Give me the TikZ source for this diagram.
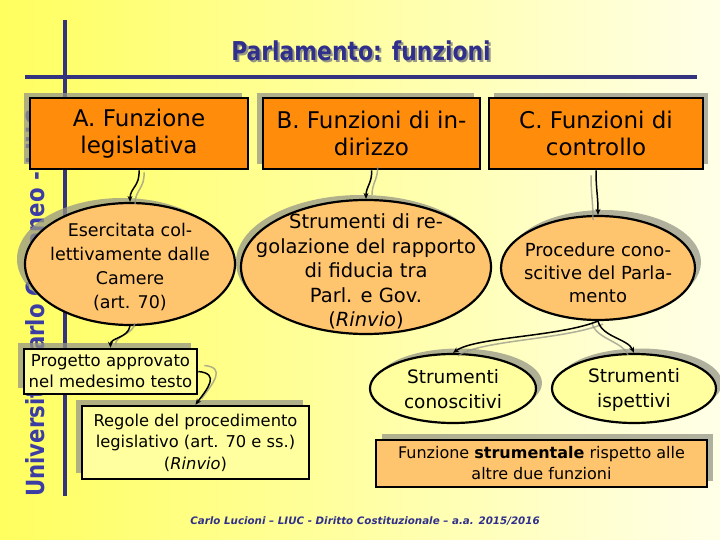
\documentclass[tikz,border=0pt]{standalone}
\usepackage{fontspec}
\setmainfont{DejaVu Sans}
\usetikzlibrary{shapes.geometric,arrows.meta}
\definecolor{bgL}{RGB}{255,255,95}
\definecolor{bgM}{RGB}{255,255,185}
\definecolor{bgR}{RGB}{255,255,232}
\definecolor{navy}{RGB}{51,51,128}
\definecolor{titleblue}{RGB}{48,48,140}
\definecolor{vblue}{RGB}{60,60,165}
\definecolor{orangeD}{RGB}{255,140,10}
\definecolor{orangeL}{RGB}{255,196,110}
\definecolor{yellowL}{RGB}{255,255,160}
\definecolor{shadowgray}{RGB}{150,150,135}
\newcommand{\fs}[2]{\fontsize{#1}{#2}\selectfont}
\begin{document}
\begin{tikzpicture}[x=1pt,y=-1pt,
  shadowrect/.style={rectangle,fill=shadowgray,opacity=0.75,draw=none,inner sep=0pt},
  shadowell/.style={ellipse,fill=shadowgray,opacity=0.75,draw=none,inner sep=0pt},
  boxnode/.style={rectangle,draw=black,line width=2.6pt,align=center,inner sep=0pt},
  ellnode/.style={ellipse,draw=black,line width=2.2pt,inner sep=0pt},
  txt/.style={align=center,inner sep=0pt},
  conn/.style={draw=black,line width=1.5pt,-{Stealth[length=6pt,width=5pt]}},
  connsh/.style={draw=shadowgray,line width=1.5pt,opacity=0.75}]
\useasboundingbox (0,0) rectangle (720,540);
\shade[left color=bgL, middle color=bgM, right color=bgR] (0,0) rectangle (720,540);

% vertical side text
\node[rotate=90,anchor=base west,inner sep=0pt,text=vblue,font=\fs{25}{29}\bfseries] (side) at (44,497) {\scalebox{0.85}[1]{Università Carlo Cattaneo - LIUC}};

% frame lines
\coordinate (vt) at (65,20);
\coordinate (vb) at (65,496);
\coordinate (hl) at (25,77);
\coordinate (hr) at (697,77);
\draw[navy,line width=4pt] (vt) -- (vb);
\draw[navy,line width=4pt] (hl) -- (hr);

% title
\node[text=shadowgray,font=\fs{26}{30}\bfseries] (titlesh) at (363,53) {\scalebox{0.84}[1]{Parlamento: funzioni}};
\node[text=titleblue,font=\fs{26}{30}\bfseries] (title) at (361,51) {\scalebox{0.84}[1]{Parlamento: funzioni}};

% shadows
\node[shadowrect,minimum width=218pt,minimum height=71pt] (sbA) at (133,128.5) {};
\node[shadowrect,minimum width=217pt,minimum height=71pt] (sbB) at (365.5,128.5) {};
\node[shadowrect,minimum width=214pt,minimum height=71pt] (sbC) at (601,128.5) {};
\node[shadowell,minimum width=210pt,minimum height=122pt] (seA) at (122,259) {};
\node[shadowell,minimum width=250pt,minimum height=134pt] (seB) at (361,262) {};
\node[shadowell,minimum width=194pt,minimum height=104pt] (seC) at (604,262) {};
\node[shadowrect,minimum width=173pt,minimum height=45pt] (sbP) at (104.5,365.5) {};
\node[shadowrect,minimum width=227pt,minimum height=73pt] (sbR) at (189.5,436.5) {};
\node[shadowell,minimum width=166pt,minimum height=69pt] (ssC) at (459,383) {};
\node[shadowell,minimum width=164pt,minimum height=69pt] (ssI) at (640,383) {};
\node[shadowrect,minimum width=331pt,minimum height=47pt] (sbF) at (547,457.5) {};

% main boxes
\node[boxnode,fill=orangeD,minimum width=218pt,minimum height=71pt,font=\fs{23}{27}] (bA) at (139,133.5) {A. Funzione\\legislativa};
\node[boxnode,fill=orangeD,minimum width=217pt,minimum height=71pt,font=\fs{23}{27}] (bB) at (371.5,133.5) {B. Funzioni di in-\\dirizzo};
\node[boxnode,fill=orangeD,minimum width=214pt,minimum height=71pt,font=\fs{23}{27}] (bC) at (596,133.5) {C. Funzioni di\\controllo};

% ellipses
\node[ellnode,fill=orangeL,minimum width=210pt,minimum height=122pt] (eA) at (130,264) {};
\node[txt,font=\fs{17.5}{24}] (tA) at (130,267) {Esercitata col-\\lettivamente dalle\\Camere\\(art. 70)};
\node[ellnode,fill=orangeL,minimum width=250pt,minimum height=134pt] (eB) at (366,267) {};
\node[txt,font=\fs{19.5}{24.5}] (tB) at (366,271.5) {Strumenti di re-\\golazione del rapporto\\di fiducia tra\\Parl. e Gov.\\(\textit{Rinvio})};
\node[ellnode,fill=orangeL,minimum width=194pt,minimum height=104pt] (eC) at (598,268) {};
\node[txt,font=\fs{18}{23}] (tC) at (598,272.5) {Procedure cono-\\scitive del Parla-\\mento};

% lower boxes
\node[boxnode,fill=yellowL,minimum width=173pt,minimum height=45pt,font=\fs{16.5}{21}] (bP) at (110.5,371.5) {Progetto approvato\\nel medesimo testo};
\node[boxnode,fill=yellowL,minimum width=227pt,minimum height=73pt,font=\fs{16.3}{21.5}] (bR) at (195.5,442.5) {Regole del procedimento\\legislativo (art. 70 e ss.)\\(\textit{Rinvio})};
\node[ellnode,fill=yellowL,minimum width=166pt,minimum height=69pt] (sC) at (453,388.5) {};
\node[txt,font=\fs{18.5}{25}] (tsC) at (453,389.5) {Strumenti\\conoscitivi};
\node[ellnode,fill=yellowL,minimum width=164pt,minimum height=69pt] (sI) at (634,388.5) {};
\node[txt,font=\fs{18.5}{25}] (tsI) at (634,389.5) {Strumenti\\ispettivi};
\node[boxnode,fill=orangeL,minimum width=331pt,minimum height=47pt,font=\fs{16}{21}] (bF) at (541.5,463.5) {Funzione \textbf{strumentale} rispetto alle\\altre due funzioni};

% connector shadows
\draw[connsh,transform canvas={xshift=5pt,yshift=-2pt}] (bA.south) .. controls +(1,16) and +(0,-14) .. (eA.north);
\draw[connsh,transform canvas={xshift=6pt,yshift=4pt}] (bB.south) .. controls +(1,12) and +(0,-12) .. (eB.north);
\draw[connsh,transform canvas={xshift=-5pt,yshift=-5pt}] (bC.south) .. controls +(0,20) and +(0,-20) .. (eC.north);
\draw[connsh,transform canvas={xshift=5pt,yshift=3pt}] (eA.south) .. controls +(-2,12) and +(0,-10) .. (bP.north);
\draw[connsh,transform canvas={xshift=6pt,yshift=6pt}] (bP.east) .. controls +(22,2) and +(12,-16) .. (bR.north);
\draw[connsh,transform canvas={xshift=5pt,yshift=-3pt}] (eC.south) .. controls +(-40,16) and +(22,-16) .. (sC.north);
\draw[connsh,transform canvas={xshift=-6pt,yshift=-2pt}] (eC.south) .. controls +(4,16) and +(-6,-14) .. (sI.north);

% connectors
\draw[conn] (bA.south) .. controls +(1,16) and +(0,-14) .. (eA.north);
\draw[conn] (bB.south) .. controls +(1,12) and +(0,-12) .. (eB.north);
\draw[conn] (bC.south) .. controls +(0,20) and +(0,-20) .. (eC.north);
\draw[conn] (eA.south) .. controls +(-2,12) and +(0,-10) .. (bP.north);
\draw[conn] (bP.east) .. controls +(22,2) and +(12,-16) .. (bR.north);
\draw[conn] (eC.south) .. controls +(-40,16) and +(22,-16) .. (sC.north);
\draw[conn] (eC.south) .. controls +(4,16) and +(-6,-14) .. (sI.north);

% footer
\node[text=titleblue,font=\fs{10.3}{12}\bfseries\itshape] (footer) at (365,521) {Carlo Lucioni – LIUC - Diritto Costituzionale – a.a. 2015/2016};
\end{tikzpicture}
\end{document}
